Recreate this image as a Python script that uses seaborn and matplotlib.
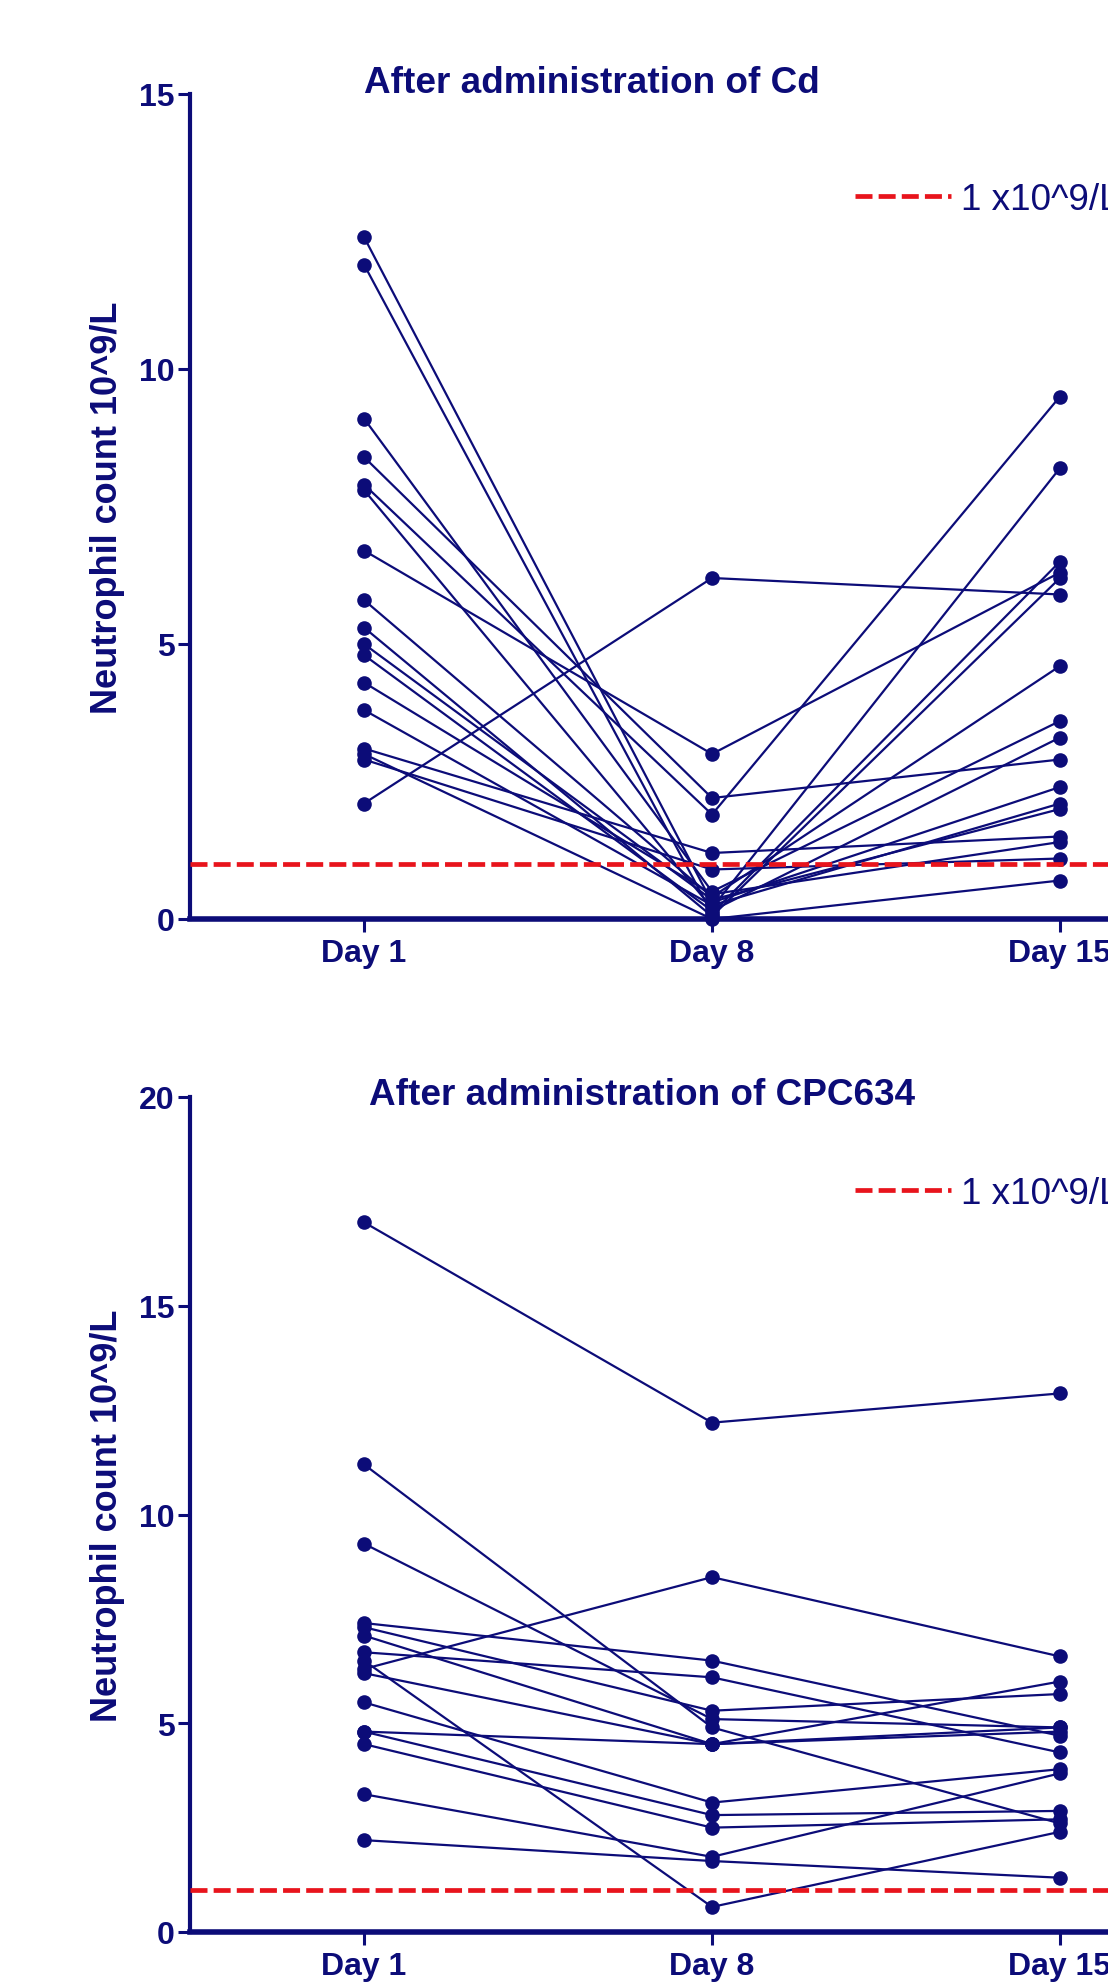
"""Neutrophil counts per patient after Cd and CPC634 administration."""

import matplotlib.pyplot as plt
import pandas as pd
import seaborn as sns
from matplotlib.lines import Line2D

NAVY = "#0c0c78"
RED = "#e8141c"

DAYS = ["Day 1", "Day 8", "Day 15"]
THRESHOLD = 1.0
THRESHOLD_LABEL = "1 x10^9/L"
YLABEL = "Neutrophil count 10^9/L"

# After administration of Cd (one entry per patient)
cd_day1 = [12.4, 11.9, 9.1, 8.4, 7.9, 7.8, 6.7, 5.8, 5.3, 5.0, 4.8, 4.3, 3.8, 3.1, 3.0, 2.9, 2.1]
cd_day8 = [0.3, 0.1, 0.5, 2.2, 1.9, 0.2, 3.0, 0.4, 0.05, 0.35, 0.15, 0.45, 0.25, 1.2, 0.0, 0.9, 6.2]
cd_day15 = [2.4, 6.5, 3.6, 2.9, 9.5, 8.2, 6.3, 4.6, 6.2, 2.0, 3.3, 1.4, 2.1, 1.5, 0.7, 1.1, 5.9]

# After administration of CPC634
cpc_day1 = [17.0, 11.2, 9.3, 7.4, 7.3, 7.1, 6.7, 6.5, 6.3, 6.2, 5.5, 4.8, 4.8, 4.5, 3.3, 2.2]
cpc_day8 = [12.2, 4.9, 5.1, 6.5, 5.3, 4.5, 6.1, 0.6, 8.5, 4.5, 3.1, 4.5, 2.8, 2.5, 1.8, 1.7]
cpc_day15 = [12.9, 2.6, 4.9, 4.7, 5.7, 6.0, 4.3, 2.4, 6.6, 4.8, 3.9, 4.9, 2.9, 2.7, 3.8, 1.3]


def to_long(day1, day8, day15):
    rows = []
    for i, vals in enumerate(zip(day1, day8, day15)):
        for day, v in zip(DAYS, vals):
            rows.append({"subject": i, "day": day, "value": v})
    return pd.DataFrame(rows)


def setup_style():
    sns.set_style("ticks")
    plt.rcParams["font.family"] = ["Liberation Sans", "DejaVu Sans"]
    plt.rcParams["text.color"] = NAVY
    plt.rcParams["xtick.color"] = NAVY
    plt.rcParams["ytick.color"] = NAVY


def draw_panel(fig, rect, df, title, title_xy, legend_xy, ymax, yticks):
    ax = fig.add_axes(rect)
    sns.lineplot(
        data=df,
        x="day",
        y="value",
        units="subject",
        estimator=None,
        sort=False,
        color=NAVY,
        linewidth=1.6,
        marker="o",
        markersize=10.5,
        markeredgewidth=0,
        clip_on=False,
        zorder=3,
        legend=False,
        ax=ax,
    )
    ax.axhline(THRESHOLD, color=RED, linewidth=3.4, dashes=(3.6, 1.3), zorder=4)

    ax.set_xlim(-0.5, 2.5)
    ax.set_ylim(0, ymax)
    ax.set_yticks(yticks)
    ax.set_xlabel("")
    ax.set_ylabel(YLABEL, fontsize=26, fontweight="bold", color=NAVY)
    ax.yaxis.set_label_coords(-0.062, 0.5)

    for side in ["top", "right"]:
        ax.spines[side].set_visible(False)
    ax.spines["left"].set_color(NAVY)
    ax.spines["left"].set_linewidth(3)
    ax.spines["bottom"].set_color(NAVY)
    ax.spines["bottom"].set_linewidth(4)

    ax.tick_params(axis="y", length=9, width=2.2, pad=2, labelsize=23)
    ax.tick_params(axis="x", length=9, width=2.2, pad=5, labelsize=23)
    for lab in ax.get_xticklabels() + ax.get_yticklabels():
        lab.set_fontweight("bold")

    fig.text(title_xy[0], title_xy[1], title, fontsize=26.6, fontweight="bold",
             color=NAVY, ha="left", va="baseline")

    handle = Line2D([], [], color=RED, linewidth=3.4, dashes=(3.6, 1.3))
    ax.legend(
        [handle],
        [THRESHOLD_LABEL],
        loc="center left",
        bbox_to_anchor=legend_xy,
        bbox_transform=fig.transFigure,
        frameon=False,
        fontsize=26.6,
        labelcolor=NAVY,
        handlelength=2.6,
        handletextpad=0.27,
        borderpad=0,
        borderaxespad=0,
    )
    return ax


def main():
    setup_style()
    W, H = 1108, 1983
    fig = plt.figure(figsize=(W / 100, H / 100), dpi=100)
    fig.patch.set_facecolor("white")

    left = 190 / W
    width = 1044 / W

    draw_panel(
        fig,
        [left, (H - 920) / H, width, 825 / H],
        to_long(cd_day1, cd_day8, cd_day15),
        "After administration of Cd",
        (364 / W, 1 - 93 / H),
        (855 / W, 1 - 200 / H),
        15,
        [0, 5, 10, 15],
    )
    draw_panel(
        fig,
        [left, (H - 1933) / H, width, 835 / H],
        to_long(cpc_day1, cpc_day8, cpc_day15),
        "After administration of CPC634",
        (369 / W, 1 - 1105 / H),
        (855 / W, 1 - 1194 / H),
        20,
        [0, 5, 10, 15, 20],
    )

    fig.savefig("out.png", dpi=100, facecolor="white")
    plt.close(fig)


if __name__ == "__main__":
    main()
